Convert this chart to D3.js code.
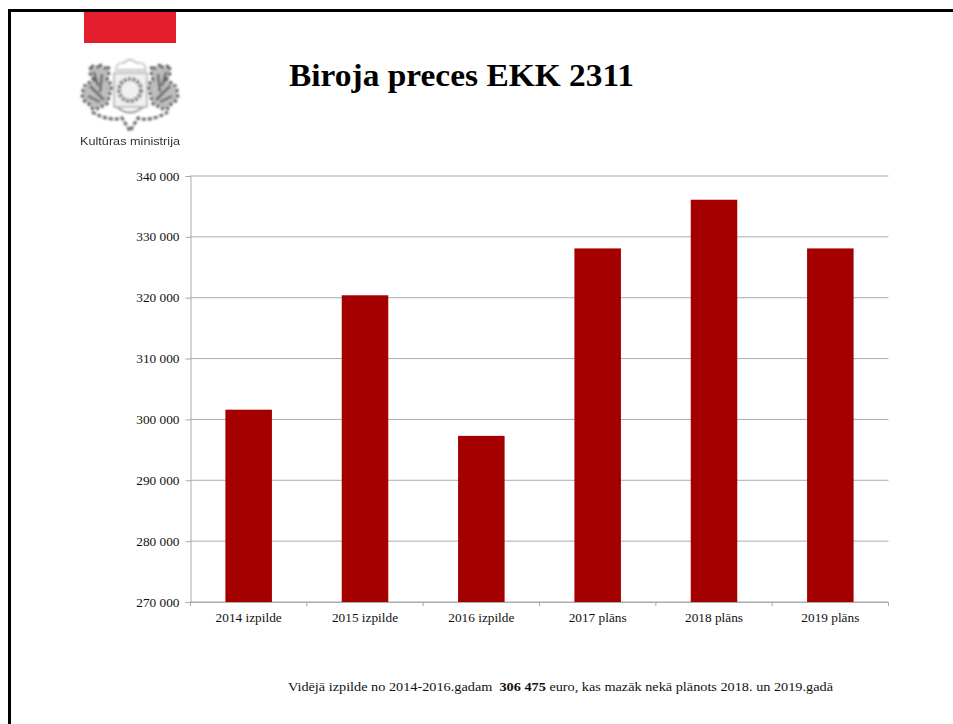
<!DOCTYPE html>
<html><head><meta charset="utf-8">
<script src="https://cdnjs.cloudflare.com/ajax/libs/d3/7.8.5/d3.min.js"></script>
<style>html,body{margin:0;padding:0;background:#fff}svg{display:block}text{font-family:"Liberation Serif",serif;fill:#111}</style>
</head><body><svg id="c" width="953" height="724"></svg>
<script>
const categories=["2014 izpilde","2015 izpilde","2016 izpilde","2017 plāns","2018 plāns","2019 plāns"];
const values=[301600,320400,297300,328100,336100,328100];
const tickValues=[270000,280000,290000,300000,310000,320000,330000,340000];
const titleText="Biroja preces EKK 2311";
const logoText="Kultūras ministrija";
const noteParts=[["Vidējā izpilde no 2014-2016.gadam  ",400],["306 475",700],[" euro, kas mazāk nekā plānots 2018. un 2019.gadā",400]];

const svg=d3.select("#c");
const x=d3.scaleBand().domain(categories).range([190.5,888.5]).paddingInner(0.6).paddingOuter(0.3);
const xEdge=d3.scaleBand().domain(categories).range([190.5,888.5]);
const y=d3.scaleLinear().domain([270000,340000]).range([602,176]);
const fmt=v=>d3.format(",")(v).replace(",", " ");
const gridCol="#ababab";

// frame
svg.append("rect").attr("x",8).attr("y",9).attr("width",945).attr("height",3).attr("fill","#000");
svg.append("rect").attr("x",8).attr("y",9).attr("width",3).attr("height",715).attr("fill","#000");

// logo
const defs=svg.append("defs");
defs.append("filter").attr("id","bl").append("feGaussianBlur").attr("stdDeviation",0.8);
defs.append("filter").attr("id","bt").append("feGaussianBlur").attr("stdDeviation",0.35);
svg.append("rect").attr("x",84).attr("y",12).attr("width",92).attr("height",31).attr("fill","#e31e2d");
const logo=svg.append("g").attr("filter","url(#bl)").attr("fill","none");
const lion="M0 0C-6 -6 -4 -12 -2 -15C0 -10 4 -12 6 -16C8 -10 12 -12 14 -14C16 -8 14 -4 13 0C19 3 18 12 14 16C16 22 12 27 6 26C3 31 -3 30 -5 24C-12 22 -14 12 -9 8C-11 4 -4 3 0 0Z";
[[94,80,1],[166,80,-1]].forEach(([px,py,s])=>{
  logo.append("path").attr("d",lion).attr("transform",`translate(${px},${py}) scale(${s},1)`).attr("fill","#bdbdbd");
  logo.append("path").attr("d",lion).attr("transform",`translate(${px},${py}) scale(${s},1)`).attr("stroke","#555").attr("stroke-width",3).attr("stroke-dasharray","3 2.5");
  logo.append("path").attr("d","M0 -8L4 6M8 -6L6 12M-4 6L10 20M-6 16L6 22").attr("transform",`translate(${px},${py}) scale(${s},1)`).attr("stroke","#666").attr("stroke-width",2.5);
});
logo.append("rect").attr("x",114).attr("y",73).attr("width",33).attr("height",34).attr("stroke","#aaa").attr("stroke-width",1.5).attr("fill","#f0f0f0");
logo.append("circle").attr("cx",130).attr("cy",90).attr("r",11).attr("stroke","#777").attr("stroke-width",4).attr("stroke-dasharray","3 1.5");
logo.append("path").attr("d","M117 107Q130 118 143 107").attr("stroke","#999").attr("stroke-width",2);
logo.append("path").attr("d","M92 112Q110 122 122 118L130 131L138 118Q150 122 168 112").attr("stroke","#666").attr("stroke-width",3).attr("stroke-dasharray","4 2");
logo.append("path").attr("d","M116 70Q116 62 124 63Q130 56 136 63Q146 62 146 70Z").attr("stroke","#b5b5b5").attr("stroke-width",1.3);
svg.append("text").attr("x",130).attr("y",145).attr("text-anchor","middle").attr("filter","url(#bt)").attr("textLength",100).attr("lengthAdjust","spacingAndGlyphs").style("font-family","'Liberation Sans',sans-serif").style("font-size","10.5px").style("fill","#333").text(logoText);

// title
svg.append("text").attr("x",289).attr("y",86).style("font-family","'Liberation Serif',serif").style("font-weight",700).style("font-size","32px").style("fill","#000").attr("textLength",345).attr("lengthAdjust","spacingAndGlyphs").text(titleText);

// gridlines
svg.append("g").selectAll("line").data(tickValues).join("line")
 .attr("x1",190).attr("x2",888.5).attr("y1",d=>y(d)).attr("y2",d=>y(d))
 .attr("stroke",gridCol).attr("stroke-width",1);

// bars
svg.append("g").selectAll("rect").data(values).join("rect")
 .attr("x",(d,i)=>x(categories[i])).attr("width",x.bandwidth())
 .attr("y",d=>y(d)).attr("height",d=>y(270000)-y(d)).attr("fill","#a50000");

// axes
const axL=d3.axisLeft(y).tickValues(tickValues).tickFormat(fmt).tickSize(5).tickPadding(6);
const gL=svg.append("g").attr("transform","translate(190.5,0)").call(axL);
const axB=d3.axisBottom(xEdge).tickValues([]).tickSize(0);
const gB=svg.append("g").attr("transform","translate(0,602)").call(axB);
gB.selectAll("line.edge").data(d3.range(categories.length+1)).join("line").attr("class","edge")
 .attr("x1",i=>190.5+i*xEdge.step()).attr("x2",i=>190.5+i*xEdge.step()).attr("y1",0).attr("y2",4).attr("stroke",gridCol);
gB.selectAll("text.cat").data(categories).join("text").attr("class","cat")
 .attr("x",d=>xEdge(d)+xEdge.bandwidth()/2).attr("y",20).attr("text-anchor","middle").text(d=>d);
svg.selectAll("g .domain").attr("stroke",gridCol);
gL.selectAll("line").attr("stroke",gridCol);
svg.selectAll("g text").style("font-size","13.3px").style("font-family","'Liberation Serif',serif").attr("fill","#111");
gL.selectAll("text").attr("dy","0.3em");

// footnote
const note=svg.append("text").attr("x",288).attr("y",691).attr("xml:space","preserve").attr("textLength",545).attr("lengthAdjust","spacingAndGlyphs").style("font-size","13px").style("white-space","pre");
note.selectAll("tspan").data(noteParts).join("tspan").style("font-weight",d=>d[1]).text(d=>d[0]);
</script></body></html>
